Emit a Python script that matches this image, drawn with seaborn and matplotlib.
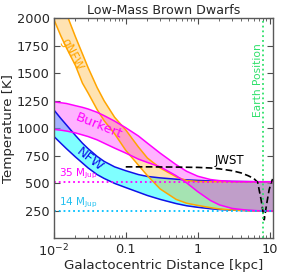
import numpy as np
import pandas as pd
import matplotlib
matplotlib.use("Agg")
import matplotlib.pyplot as plt
import seaborn as sns

# ---- data ----
dist = [0.01, 0.0125, 0.015, 0.02, 0.025, 0.03, 0.04, 0.05, 0.07, 0.1, 0.15,
        0.2, 0.3, 0.5, 0.7, 1, 1.5, 2, 3, 5, 7, 11]
nfw_hi = [1168, 1090, 1030, 935, 865, 815, 745, 700, 650, 615, 580,
          563, 550, 538, 532, 527, 522, 520, 518, 516, 515, 515]
nfw_lo = [927, 865, 815, 740, 685, 640, 580, 545, 500, 462, 420,
          390, 355, 317, 297, 283, 270, 263, 257, 253, 251, 250]
bur_hi = [1240, 1232, 1225, 1205, 1190, 1175, 1145, 1115, 1065, 1005, 930,
          865, 775, 670, 610, 565, 535, 525, 518, 516, 515, 515]
bur_lo = [990, 983, 975, 958, 940, 925, 895, 865, 820, 775, 720,
          690, 650, 570, 505, 425, 345, 305, 273, 256, 252, 250]
gnfw_hi = [2350, 2170, 2040, 1830, 1676, 1550, 1370, 1250, 1100, 985, 830,
           730, 640, 560, 525, 517, 515, 515, 515, 515, 515, 515]
gnfw_lo = [1990, 1840, 1730, 1570, 1410, 1320, 1170, 1070, 950, 800, 665,
           570, 450, 355, 320, 300, 280, 268, 258, 252, 250, 250]

jwst_x = [0.1, 0.2, 0.5, 1, 1.5, 2, 3, 4, 5, 6, 6.8, 7.6, 8.4, 9.0, 9.8, 10.5, 11]
jwst_t = [650, 650, 648, 645, 640, 632, 615, 595, 570, 545, 510, 350, 170, 300, 440, 510, 540]

t35 = 515
t14 = 250
earth = 8.178

xticks = [0.01, 0.1, 1, 10]
xticklabels = [r"$10^{-2}$", "0.1", "1", "10"]
yticks = [250, 500, 750, 1000, 1250, 1500, 1750, 2000]

bands = pd.DataFrame({"dist": dist, "nfw_hi": nfw_hi, "nfw_lo": nfw_lo,
                      "bur_hi": bur_hi, "bur_lo": bur_lo,
                      "gnfw_hi": gnfw_hi, "gnfw_lo": gnfw_lo})
jwst = pd.DataFrame({"dist": jwst_x, "T": jwst_t})

# ---- style ----
sns.set_style("ticks")
plt.rcParams["font.family"] = ["DejaVu Sans"]

fig, ax = plt.subplots(figsize=(2.83, 2.74), dpi=100)
fig.subplots_adjust(left=0.19, right=0.9636, top=0.934, bottom=0.1296)
ax.set_xscale("log")

# fills
ax.fill_between(bands["dist"], bands["nfw_lo"], bands["nfw_hi"], color="cyan", alpha=0.5, lw=0)
ax.fill_between(bands["dist"], bands["gnfw_lo"], bands["gnfw_hi"], color="orange", alpha=0.3, lw=0)
ax.fill_between(bands["dist"], bands["bur_lo"], bands["bur_hi"], color="magenta", alpha=0.3, lw=0)

# boundary lines
for col, c in [("nfw_hi", "#1010e8"), ("nfw_lo", "#1010e8"),
               ("gnfw_hi", "orange"), ("gnfw_lo", "orange"),
               ("bur_hi", "magenta"), ("bur_lo", "magenta")]:
    sns.lineplot(data=bands, x="dist", y=col, color=c, lw=1.1, ax=ax, sort=False)

# JWST
sns.lineplot(data=jwst, x="dist", y="T", color="black", lw=1.2, ax=ax, sort=False,
             linestyle=(0, (4, 2)))

# reference lines
ax.axhline(t35, color="magenta", ls=":", lw=1.3)
ax.axhline(t14, color="deepskyblue", ls=":", lw=1.3)
ax.axvline(earth, color="#2ee06a", ls=":", lw=1.3)

# texts
ax.text(0.012, t35 + 6, r"35 M$_{\rm Jup}$", color="magenta", fontsize=7.5, va="bottom", ha="left")
ax.text(0.012, t14 + 6, r"14 M$_{\rm Jup}$", color="#22c0f0", fontsize=7.5, va="bottom", ha="left")
ax.text(6.9, 1440, "Earth Position", color="#2ee06a", fontsize=7.7, rotation=90, ha="center", va="center")
ax.text(2.8, 707, "JWST", color="black", fontsize=8.5, ha="center", va="center")
ax.text(0.0182, 1666, "gNFW", color="orange", fontsize=8.5, rotation=-63, ha="center", va="center")
ax.text(0.0425, 1020, "Burkert", color="magenta", fontsize=9.5, rotation=-22, ha="center", va="center")
ax.text(0.032, 720, "NFW", color="#1010e8", fontsize=9.5, rotation=-38, ha="center", va="center")

ax.set_xlim(0.01, 11)
ax.set_ylim(0, 2000)
ax.set_xticks(xticks)
ax.set_xticklabels(xticklabels)
ax.set_yticks(yticks)
ax.set_xlabel("Galactocentric Distance [kpc]", fontsize=9.6, labelpad=0)
ax.set_ylabel("Temperature [K]", fontsize=9.6, labelpad=1)
ax.set_title("Low-Mass Brown Dwarfs", fontsize=9.1, pad=3)

ax.tick_params(which="both", direction="in", top=True, right=True, labelsize=9.3, color="0.3", pad=3)
ax.tick_params(which="major", length=4, width=0.8)
ax.tick_params(which="minor", length=2, width=0.6)
ax.tick_params(axis="y", which="minor", left=False, right=False)
for s in ax.spines.values():
    s.set_color("0.35")
    s.set_linewidth(1.0)

fig.savefig("out.png", dpi=100)
